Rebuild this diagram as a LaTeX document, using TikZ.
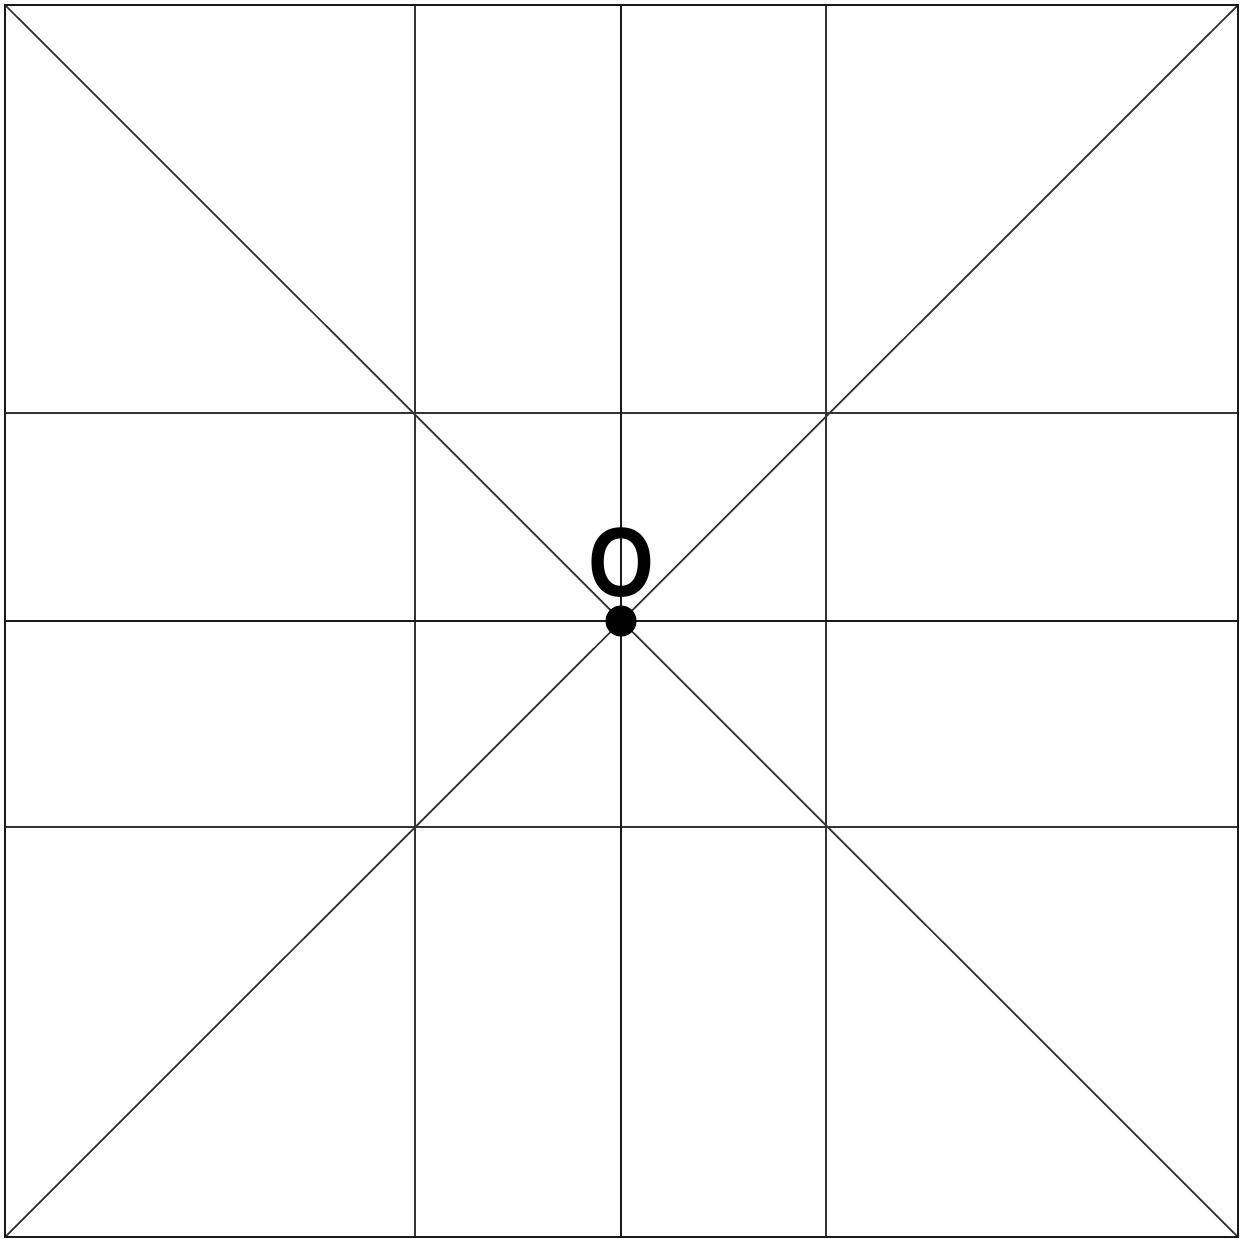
\documentclass[tikz,border=0pt]{standalone}
\usepackage{fontspec}
\setmainfont{Liberation Sans}
\usetikzlibrary{positioning}
\tikzset{
  gridline/.style={draw=black!80,line width=0.5pt},
  axisline/.style={draw=black!90,line width=0.8pt},
  centerdot/.style={circle,fill=black,inner sep=0pt,minimum size=0.31cm}
}
\begin{document}
\begin{tikzpicture}[x=0.01cm,y=-0.01cm]
  \useasboundingbox (0,0) rectangle (1251,1239);
  % corners and edge points
  \coordinate (tl) at (5,5);
  \coordinate (tr) at (1238,5);
  \coordinate (bl) at (5,1237);
  \coordinate (br) at (1238,1237);
  \coordinate (t1) at (415,5);  \coordinate (b1) at (415,1237);
  \coordinate (t2) at (621,5);  \coordinate (b2) at (621,1237);
  \coordinate (t3) at (826,5);  \coordinate (b3) at (826,1237);
  \coordinate (l1) at (5,413);  \coordinate (r1) at (1238,413);
  \coordinate (l2) at (5,621);  \coordinate (r2) at (1238,621);
  \coordinate (l3) at (5,827);  \coordinate (r3) at (1238,827);
  % grid
  \draw[gridline] (t1) -- (b1);
  \draw[gridline] (t3) -- (b3);
  \draw[gridline] (l1) -- (r1);
  \draw[gridline] (l3) -- (r3);
  \draw[axisline] (t2) -- (b2);
  \draw[axisline] (l2) -- (r2);
  % diagonals
  \draw[gridline] (tl) -- (br);
  \draw[gridline] (tr) -- (bl);
  % frame
  \draw[axisline] (tl) -- (tr) -- (br) -- (bl) -- cycle;
  % centre
  \node[centerdot] (o) at (621,621) {};
  \node[font=\fontsize{28}{32}\selectfont\bfseries,above=0.07cm of o,inner sep=0pt,xscale=0.86] (olabel) {O};
\end{tikzpicture}
\end{document}
